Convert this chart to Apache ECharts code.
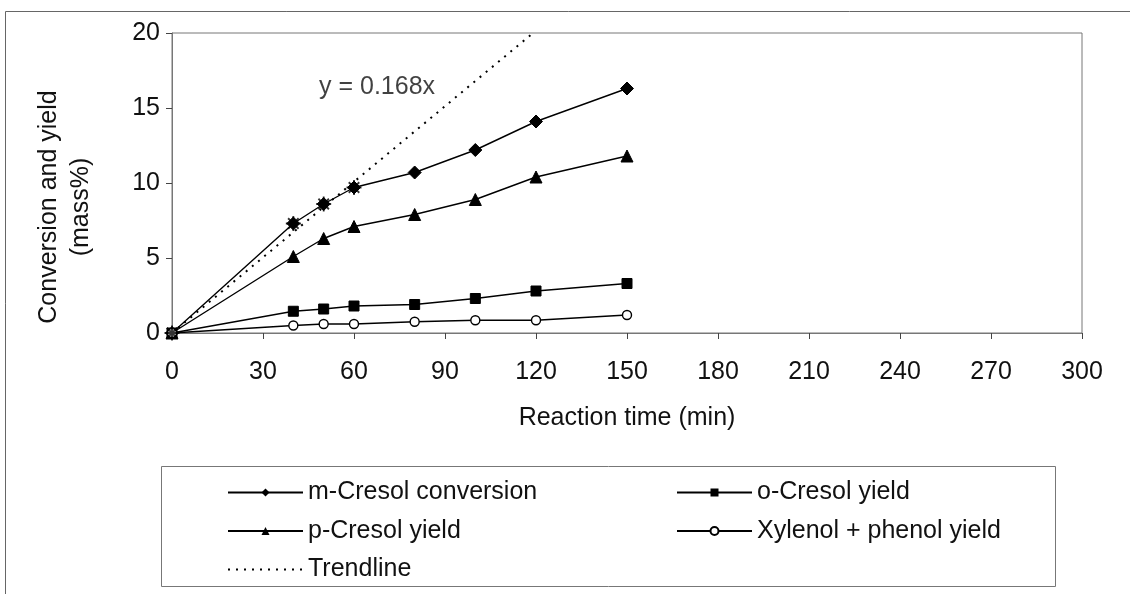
<!DOCTYPE html>
<html>
<head>
<meta charset="utf-8">
<script src="https://cdn.jsdelivr.net/npm/echarts@6/dist/echarts.min.js"></script>
<style>
  html, body { margin: 0; padding: 0; background: #fff; }
  #chart { width: 1130px; height: 594px; }
</style>
</head>
<body>
<div id="chart"></div>
<script>
// Reaction time (min)
const times = [0, 40, 50, 60, 80, 100, 120, 150];
// Conversion and yields (mass%)
const mCresolConversion = [0, 7.3, 8.6, 9.7, 10.7, 12.2, 14.1, 16.3];
const pCresolYield      = [0, 5.1, 6.3, 7.1, 7.9, 8.9, 10.4, 11.8];
const oCresolYield      = [0, 1.45, 1.6, 1.8, 1.9, 2.3, 2.8, 3.3];
const xylenolPhenolYield = [0, 0.5, 0.6, 0.6, 0.75, 0.85, 0.85, 1.2];
// Initial-rate points used for the linear fit through the origin
const fitTimes = [0, 40, 50, 60];
const trendSlope = 0.168;
// Where the fit equation is written (data coordinates)
const equationAt = [67.6, 16.4];
// Axis ticks
const xTicks = [0, 30, 60, 90, 120, 150, 180, 210, 240, 270, 300];
const yTicks = [0, 5, 10, 15, 20];

const FONT = 'Liberation Sans, Arial, sans-serif';
const FS = 25;
const pairs = (xs, ys) => xs.map((x, i) => [x, ys[i]]);
const fitPoints = fitTimes.map(t => [t, mCresolConversion[times.indexOf(t)]]);
const yMax = yTicks[yTicks.length - 1];
const trendData = [[0, 0], [yMax / trendSlope, yMax]];

// eight-ray asterisk drawn as strokes
const asterisk = 'path://M0,-6L0,6M-6,0L6,0M-4.2,-4.2L4.2,4.2M-4.2,4.2L4.2,-4.2';

function lineSeries(name, data, symbol, size, extra) {
  return Object.assign({
    name, type: 'line', data, symbol, symbolSize: size,
    showAllSymbol: true,
    lineStyle: { color: '#000', width: 1.4 },
    itemStyle: { color: '#000', borderColor: '#000' },
    emphasis: { disabled: true },
    z: 3
  }, extra || {});
}

const legendText = { fontSize: FS, color: '#111', fontFamily: FONT, lineHeight: 25 };

const chart = echarts.init(document.getElementById('chart'), null, { renderer: 'canvas' });
chart.setOption({
  animation: false,
  backgroundColor: '#fff',
  textStyle: { fontFamily: FONT, color: '#111' },
  grid: {
    left: 172, right: 48, top: 33, height: 300,
    show: true, borderColor: '#777', borderWidth: 1
  },
  xAxis: {
    type: 'value', min: xTicks[0], max: xTicks[xTicks.length - 1], interval: 30,
    name: 'Reaction time (min)', nameLocation: 'middle', nameGap: 73,
    nameTextStyle: { fontSize: FS, color: '#111', fontFamily: FONT },
    axisLine: { lineStyle: { color: '#777', width: 1 } },
    axisTick: { show: true, inside: false, length: 6, lineStyle: { color: '#444' } },
    axisLabel: { fontSize: FS, color: '#111', margin: 27, fontFamily: FONT },
    splitLine: { show: false }
  },
  yAxis: {
    type: 'value', min: yTicks[0], max: yMax, interval: 5,
    name: 'Conversion and yield\n(mass%)', nameLocation: 'middle', nameGap: 75,
    nameRotate: 90,
    nameTextStyle: {
      fontSize: FS, color: '#111', fontFamily: FONT, lineHeight: 32, align: 'center',
      padding: [0, 48, 0, 0]
    },
    axisLine: { show: true, lineStyle: { color: '#777', width: 1 } },
    axisTick: { show: true, inside: false, length: 6, lineStyle: { color: '#444' } },
    axisLabel: { fontSize: FS, color: '#111', margin: 12, fontFamily: FONT },
    splitLine: { show: false }
  },
  legend: [
    {
      orient: 'vertical', left: 222, top: 475,
      itemWidth: 75, itemHeight: 10, itemGap: 13.5,
      textStyle: legendText,
      data: ['m-Cresol conversion', 'p-Cresol yield',
             { name: 'Trendline', itemStyle: { opacity: 0 } }],
      selectedMode: false
    },
    {
      orient: 'vertical', left: 671, top: 475,
      itemWidth: 75, itemHeight: 10, itemGap: 13.5,
      textStyle: legendText,
      data: ['o-Cresol yield', 'Xylenol + phenol yield'],
      selectedMode: false
    }
  ],
  graphic: [
    // outer chart frame (right and bottom sides fall just outside the canvas)
    { type: 'rect', shape: { x: 5.5, y: 11.5, width: 1130, height: 600 },
      style: { fill: 'none', stroke: '#666', lineWidth: 1 }, silent: true, z: -1 },
    // legend box
    { type: 'rect', shape: { x: 161.5, y: 466.5, width: 894, height: 120 },
      style: { fill: 'none', stroke: '#777', lineWidth: 1 }, silent: true, z: -1 }
  ],
  series: [
    lineSeries('m-Cresol conversion', pairs(times, mCresolConversion), 'diamond', 13),
    lineSeries('o-Cresol yield', pairs(times, oCresolYield), 'rect', 10),
    lineSeries('p-Cresol yield', pairs(times, pCresolYield), 'triangle', 12),
    lineSeries('Xylenol + phenol yield', pairs(times, xylenolPhenolYield), 'circle', 9, {
      itemStyle: { color: '#fff', borderColor: '#000', borderWidth: 1.4 }
    }),
    {
      name: 'Trendline', type: 'line', data: trendData, symbol: 'none',
      lineStyle: { color: '#000', width: 2, type: [2, 6] },
      itemStyle: { color: '#000' },
      emphasis: { disabled: true }, z: 2
    },
    {
      name: 'fit points', type: 'scatter', data: fitPoints,
      symbol: asterisk, symbolSize: 15,
      itemStyle: { color: '#000', borderColor: '#000', borderWidth: 1.8 },
      emphasis: { disabled: true }, z: 4
    },
    {
      // fit equation text
      name: 'equation', type: 'scatter', data: [equationAt],
      symbol: 'circle', symbolSize: 1,
      itemStyle: { color: 'rgba(0,0,0,0)' },
      label: {
        show: true, position: 'inside', formatter: 'y = ' + trendSlope + 'x',
        fontSize: FS, color: '#111', fontFamily: FONT
      },
      emphasis: { disabled: true }, silent: true, z: 5
    }
  ]
});
</script>
</body>
</html>
